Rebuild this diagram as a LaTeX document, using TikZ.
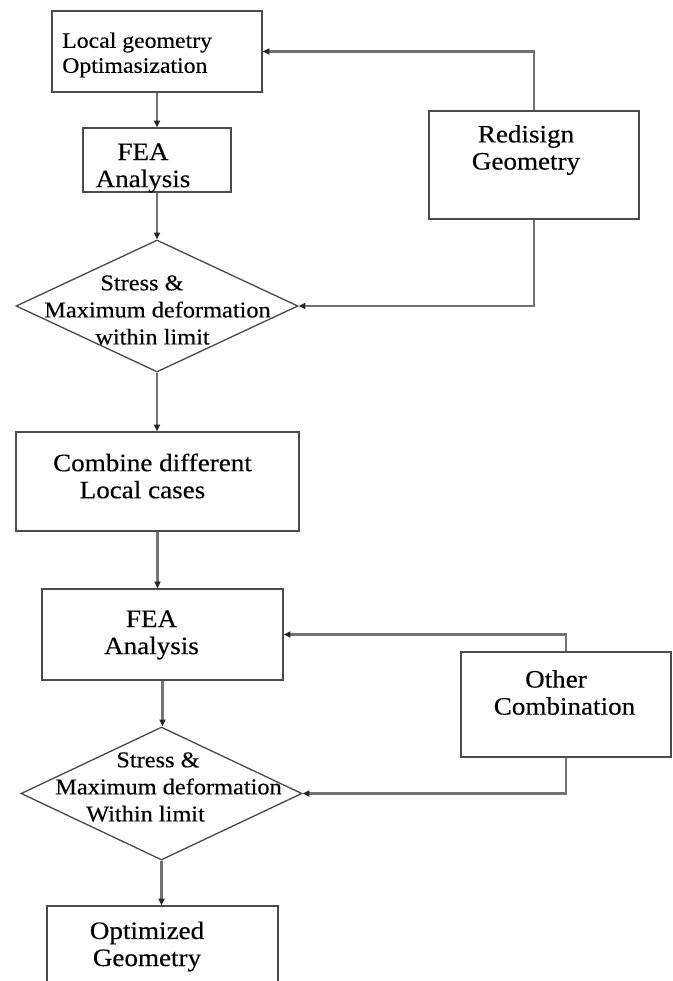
\documentclass[tikz,border=0pt]{standalone}
\usepackage{fontspec}
\setmainfont{Liberation Serif}[FakeStretch=1.08,FakeBold=0.3]
\usetikzlibrary{shapes.geometric,arrows.meta}
\begin{document}
\begin{tikzpicture}[x=0.75pt,y=-0.75pt,
 box/.style={draw=black!70,line width=1.1pt,rectangle,inner sep=0pt},
 dia/.style={draw=black!70,line width=1.0pt,diamond,inner sep=0pt},
 conn/.style={draw=black!55,line width=1.6pt,-{Triangle[length=5pt,width=4.5pt,color=black!85]}},
 small/.style={font=\fontsize{16.9}{20.3}\selectfont,align=center,inner sep=0pt},
 big/.style={font=\fontsize{18.8}{20.3}\selectfont,align=center,inner sep=0pt},
]
\path[use as bounding box] (0,0) rectangle (673,981);
\clip (0,0) rectangle (673,981);
\fill[white] (0,0) rectangle (673,981);

% shapes
\node[box, minimum width=210*0.75pt, minimum height=81*0.75pt] (loc) at (157,51.5) {};
\node[box, minimum width=148*0.75pt, minimum height=64*0.75pt] (fea1) at (157,160) {};
\node[dia, minimum width=282*0.75pt, minimum height=132*0.75pt] (d1) at (157,306) {};
\node[box, minimum width=210*0.75pt, minimum height=108*0.75pt] (red) at (534,165) {};
\node[box, minimum width=283*0.75pt, minimum height=99*0.75pt] (comb) at (157.5,481.5) {};
\node[box, minimum width=241*0.75pt, minimum height=91*0.75pt] (fea2) at (162.5,634.5) {};
\node[box, minimum width=210*0.75pt, minimum height=105*0.75pt] (oth) at (566,704.5) {};
\node[dia, minimum width=281*0.75pt, minimum height=133*0.75pt] (d2) at (161.5,793.5) {};
\node[box, minimum width=231*0.75pt, minimum height=100*0.75pt] (opt) at (162.5,956) {};

% texts
\node[small, font=\fontsize{16.5}{18.75}\selectfont, align=left, anchor=west] (tloc) at (62,55) {Local geometry\\Optimasization};
\node[big] (tfea1) at (143,168) {FEA\\Analysis};
\node[small] (td1) at (157.5,310) {Stress \&\hspace*{23.25pt}\\Maximum deformation\\within limit\hspace*{7.5pt}};
\node[big] (tred) at (526,150) {Redisign\\Geometry};
\node[big] (tcomb) at (152.5,476) {Combine different\\Local cases\hspace*{15pt}};
\node[big] (tfea2) at (151.5,635) {FEA\\Analysis};
\node[big] (toth) at (564.5,692.5) {Other\hspace*{12.75pt}\\Combination};
\node[small] (td2) at (168.5,787) {Stress \&\hspace*{15.75pt}\\Maximum deformation\\Within limit\hspace*{34.5pt}};
\node[big] (topt) at (147,946.5) {Optimized\\Geometry};

% connectors
\draw[conn] (loc.south) -- (fea1.north);
\draw[conn] (fea1.south) -- (d1.north);
\draw[conn] (d1.south) -- (d1.south |- comb.north);
\draw[conn] (comb.south) -- (comb.south |- fea2.north);
\draw[conn] (fea2.south) -- (fea2.south |- d2.north);
\draw[conn] (d2.south) -- (d2.south |- opt.north);
\draw[conn] (red.north) |- (loc.east);
\draw[conn] (red.south) |- (d1.east);
\draw[conn] (oth.north) |- (fea2.east);
\draw[conn] (oth.south) |- (d2.east);
\end{tikzpicture}
\end{document}
